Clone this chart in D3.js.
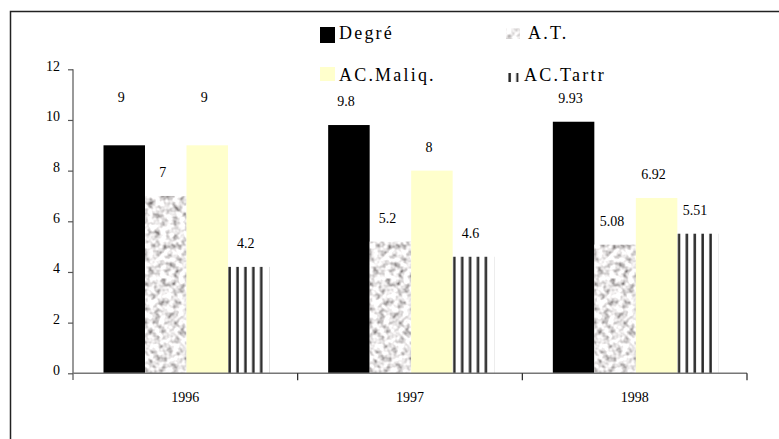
<!DOCTYPE html>
<html>
<head>
<meta charset="utf-8">
<script src="https://cdn.jsdelivr.net/npm/d3@7"></script>
<style>
	body { margin: 0; background: #fff; }
	svg text { font-family: "Liberation Serif", "Tinos", "DejaVu Serif", serif; }
</style>
</head>
<body>
<div id="my_dataviz"></div>
<script>
// data
var years = ["1996", "1997", "1998"];
var series = ["Degré", "A.T.", "AC.Maliq.", "AC.Tartr"];
var degre = [9, 9.8, 9.93];
var acideTotal = [7, 5.2, 5.08];
var acMaliq = [9, 8, 6.92];
var acTartr = [4.2, 4.6, 5.51];
var yTicks = [0, 2, 4, 6, 8, 10, 12];

var values = [degre, acideTotal, acMaliq, acTartr];
var labelText = [
	["9", "9.8", "9.93"],
	["7", "5.2", "5.08"],
	["9", "8", "6.92"],
	["4.2", "4.6", "5.51"]
];
// labels manually raised in the original
var liftedLabels = { "1996|Degré": 24, "1996|AC.Maliq.": 24 };

var dimension = { width: 779, height: 439 };

var svg = d3.select("#my_dataviz")
	.append("svg")
	.attr("width", dimension.width)
	.attr("height", dimension.height)
	.style("background", "#fff");

// scales
var x0 = d3.scaleBand()
	.domain(years)
	.range([73, 747]);

var x1 = d3.scaleBand()
	.domain(series)
	.range([30.5, 196.5]);

var y = d3.scaleLinear()
	.domain([0, 12])
	.range([373.3, 69.3]);

// patterns / textures
var defs = svg.append("defs");
function stripePattern(id, n) {
	var p = defs.append("pattern")
		.attr("id", id)
		.attr("patternUnits", "objectBoundingBox")
		.attr("width", 1)
		.attr("height", 1);
	p.append("rect").attr("width", 60).attr("height", 400).attr("fill", "#fff");
	p.selectAll(".s")
		.data(d3.range(n))
		.enter()
		.append("rect")
		.attr("x", function(d) { return 0.4 + d * 7.9; })
		.attr("width", 2.5)
		.attr("height", 400)
		.attr("fill", "#2a2a2a");
}
stripePattern("stripes", 5);
stripePattern("stripesLegend", 2);

var granite = defs.append("filter")
	.attr("id", "granite")
	.attr("x", 0).attr("y", 0).attr("width", 1).attr("height", 1);
granite.append("feTurbulence")
	.attr("type", "fractalNoise")
	.attr("baseFrequency", 0.16)
	.attr("numOctaves", 2)
	.attr("seed", 7)
	.attr("result", "noise");
granite.append("feColorMatrix")
	.attr("in", "noise")
	.attr("type", "matrix")
	.attr("values", "1.8 0 0 0 -0.08  1.8 0 0 0 -0.1  1.8 0 0 0 -0.1  0 0 0 0 1")
	.attr("result", "grey");
granite.append("feComposite")
	.attr("in", "grey")
	.attr("in2", "SourceGraphic")
	.attr("operator", "in");

var fills = ["#000", "#bbb", "#ffffcc", "url(#stripes)"];

// frame (only top and left visible)
svg.append("path")
	.attr("d", "M10.5,439V11.5H779")
	.attr("fill", "none")
	.attr("stroke", "#222")
	.attr("stroke-width", 1.5);

// Y axis
var yAxis = svg.append("g")
	.attr("transform", "translate(73,0)")
	.call(d3.axisLeft(y).tickValues(yTicks).tickSize(5).tickPadding(8).tickSizeOuter(0));
yAxis.attr("font-family", null);
yAxis.select(".domain").attr("stroke", "#777").attr("stroke-width", 1.5)
	.attr("d", "M0,69.3V380");
yAxis.selectAll(".tick line").attr("stroke", "#555").attr("stroke-width", 1.2);
yAxis.selectAll("text")
	.attr("dy", "0.05em")
	.style("font-size", "14px")
	.attr("fill", "#000");

// bars
var groups = svg.selectAll(".year")
	.data(years)
	.enter()
	.append("g")
	.attr("transform", function(d) { return "translate(" + x0(d) + ",0)"; });

groups.selectAll("rect")
	.data(function(d, i) {
		return series.map(function(s, j) { return { year: d, key: s, idx: j, value: values[j][i] }; });
	})
	.enter()
	.append("rect")
	.attr("x", function(d) { return x1(d.key); })
	.attr("y", function(d) { return y(d.value); })
	.attr("width", x1.bandwidth())
	.attr("height", function(d) { return y(0) - y(d.value); })
	.attr("fill", function(d) { return fills[d.idx]; })
	.attr("filter", function(d) { return d.idx == 1 ? "url(#granite)" : null; });

// value labels
groups.selectAll(".lbl")
	.data(function(d, i) {
		return series.map(function(s, j) { return { year: d, key: s, value: values[j][i], label: labelText[j][i] }; });
	})
	.enter()
	.append("text")
	.attr("class", "lbl")
	.attr("x", function(d) { return x1(d.key) + x1.bandwidth() / 2 - 3; })
	.attr("y", function(d) { return y(d.value) - 19 - (liftedLabels[d.year + "|" + d.key] || 0); })
	.attr("text-anchor", "middle")
	.text(function(d) { return d.label; })
	.style("font-size", "14px");

// X axis
var xAxis = svg.append("g")
	.attr("transform", "translate(0," + y(0) + ")")
	.call(d3.axisBottom(x0).tickSize(0).tickPadding(19));
xAxis.attr("font-family", null);
xAxis.select(".domain").attr("stroke", "#777").attr("stroke-width", 1.5)
	.attr("d", "M73,0H747");
xAxis.selectAll("text")
	.style("font-size", "14px")
	.attr("fill", "#000");
xAxis.selectAll(".sep")
	.data(years)
	.enter()
	.append("line")
	.attr("class", "sep")
	.attr("x1", function(d) { return x0(d) + x0.bandwidth(); })
	.attr("x2", function(d) { return x0(d) + x0.bandwidth(); })
	.attr("y1", 0)
	.attr("y2", 7)
	.attr("stroke", "#222")
	.attr("stroke-width", 1.2);

// legend
var legendPos = [
	{ bx: 320, by: 27, bw: 15, bh: 16, tx: 339, ty: 39 },
	{ bx: 506, by: 28, bw: 14, bh: 11, tx: 528, ty: 39 },
	{ bx: 320, by: 67, bw: 15, bh: 14, tx: 339, ty: 81 },
	{ bx: 508, by: 73, bw: 10.5, bh: 9, tx: 524, ty: 81 }
];
var legendFills = ["#000", "#bbb", "#ffffcc", "url(#stripesLegend)"];
var legend = svg.append("g");
legend.selectAll("rect")
	.data(series)
	.enter()
	.append("rect")
	.attr("x", function(d, i) { return legendPos[i].bx; })
	.attr("y", function(d, i) { return legendPos[i].by; })
	.attr("width", function(d, i) { return legendPos[i].bw; })
	.attr("height", function(d, i) { return legendPos[i].bh; })
	.attr("fill", function(d, i) { return legendFills[i]; })
	.attr("opacity", function(d, i) { return i == 1 ? 0.8 : 1; })
	.attr("filter", function(d, i) { return i == 1 ? "url(#granite)" : null; });
legend.selectAll("text")
	.data(series)
	.enter()
	.append("text")
	.attr("x", function(d, i) { return legendPos[i].tx; })
	.attr("y", function(d, i) { return legendPos[i].ty; })
	.text(function(d) { return d; })
	.style("font-size", "18px")
	.style("letter-spacing", "2.2px");
</script>
</body>
</html>
